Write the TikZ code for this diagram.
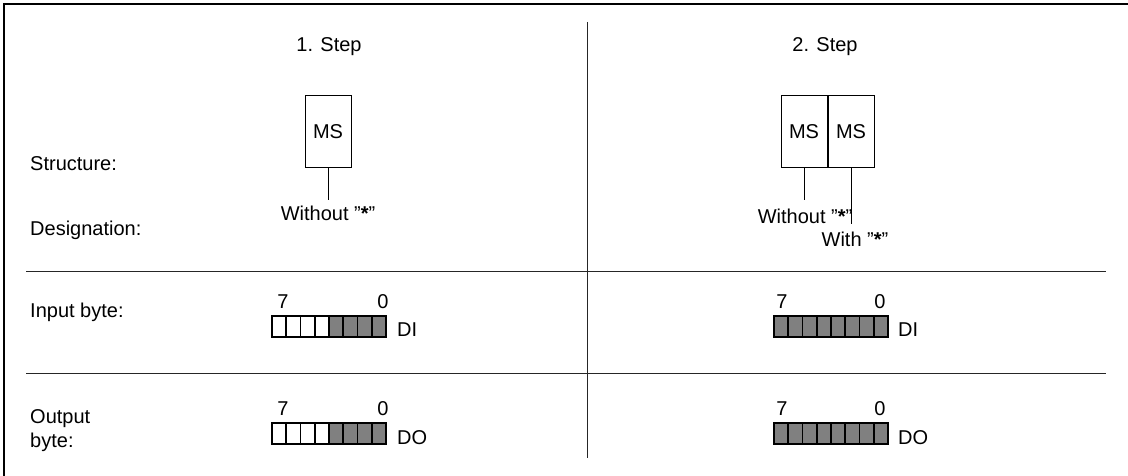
\documentclass[tikz,border=0pt]{standalone}
\usepackage{fontspec}
\setmainfont{Liberation Sans}
\begin{document}
\begin{tikzpicture}[x=1pt,y=-1pt,
  txt/.style={inner sep=0pt,font=\fontsize{20}{24}\selectfont},
  rule/.style={line width=1pt,draw=black!85},
  msbox/.style={draw,line width=1pt,minimum width=46pt,minimum height=72pt,inner sep=0pt,font=\fontsize{20}{24}\selectfont},
  bitoff/.style={draw,line width=1.6pt,fill=white,minimum width=14.25pt,minimum height=21pt,inner sep=0pt},
  biton/.style={draw,line width=1.6pt,fill=black!50,minimum width=14.25pt,minimum height=21pt,inner sep=0pt}]
\useasboundingbox (0,0) rectangle (1128,476);
% frame
\draw[line width=1.3pt] (4,476) -- (4,4) -- (1128,4);
\draw[rule] (587,22) -- (587,458);
\draw[rule] (26,271) -- (1106,271);
\draw[rule] (26,373) -- (1106,373);
% headings
\node[txt,anchor=base] (s1) at (329,52) {1. Step};
\node[txt,anchor=base] (s2) at (825,52) {2. Step};
% row labels
\node[txt,anchor=base west] (lstruct) at (30,171) {Structure:};
\node[txt,anchor=base west] (ldesig) at (30,235) {Designation:};
\node[txt,anchor=base west] (linput) at (30,317) {Input byte:};
\node[txt,anchor=base west] (lout1) at (30,423) {Output};
\node[txt,anchor=base west] (lout2) at (30,447) {byte:};
% step 1 structure
\node[msbox] (ms1) at (328,132) {MS};
\coordinate (e1) at (328,200);
\draw[line width=1pt] (ms1.south) -- (e1);
\node[txt,anchor=base] (w1) at (328,221) {Without ”\textbf{*}”};
% step 2 structure
\node[msbox] (ms2a) at (804,132) {MS};
\node[msbox,anchor=west] (ms2b) at (ms2a.east) {MS};
\coordinate (e2a) at (804,200);
\coordinate (e2b) at (851,224);
\draw[line width=1pt] (ms2a.south) -- (e2a);
\draw[line width=1pt] (ms2b.south) -- (e2b);
\node[txt,anchor=base] (w2) at (805,223) {Without ”\textbf{*}”};
\node[txt,anchor=base] (w3) at (855,246) {With ”\textbf{*}”};
% bytes
\foreach \n/\x/\y/\k in {ia/279.1/326.5/4, oa/279.1/433.5/4, ib/781.1/326.5/0, ob/781.1/433.5/0}{
  \foreach \i in {0,...,7}{
    \ifnum\i<\k
      \node[bitoff] (\n\i) at (\x+\i*14.25,\y) {};
    \else
      \node[biton] (\n\i) at (\x+\i*14.25,\y) {};
    \fi
  }
}
\node[txt,anchor=base] (ia7) at (283,308) {7};
\node[txt,anchor=base] (ia0) at (383,308) {0};
\node[txt,anchor=base west] (di1) at (397,336) {DI};
\node[txt,anchor=base] (oa7) at (283,415) {7};
\node[txt,anchor=base] (oa0) at (383,415) {0};
\node[txt,anchor=base west] (do1) at (397,444) {DO};
\node[txt,anchor=base] (ib7) at (782,308) {7};
\node[txt,anchor=base] (ib0) at (880,308) {0};
\node[txt,anchor=base west] (di2) at (898,336) {DI};
\node[txt,anchor=base] (ob7) at (782,415) {7};
\node[txt,anchor=base] (ob0) at (880,415) {0};
\node[txt,anchor=base west] (do2) at (898,444) {DO};
\end{tikzpicture}
\end{document}
